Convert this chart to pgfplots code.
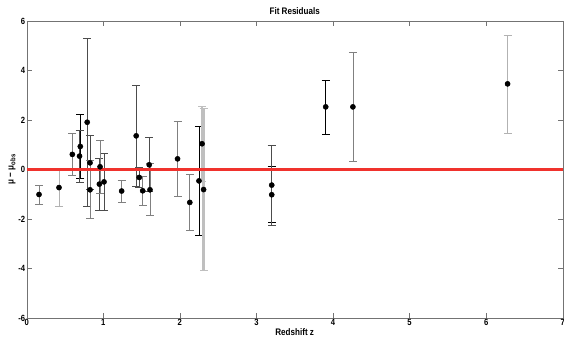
\documentclass[border=0pt]{standalone}
\usepackage{fontspec}
\setmainfont{Liberation Sans}[FakeStretch=0.85]
\usepackage{pgfplots}
\pgfplotsset{compat=1.18}
\usepackage{pgfplotstable}
\definecolor{fitred}{RGB}{240,50,45}
\pgfplotstableread{
x y e
0.70 0.93 1.28
2.25 -0.46 2.22
3.20 -1.02 1.13
3.905 2.53 1.09
}\blk
\pgfplotstableread{
x y e
0.69 0.54 1.05
0.79 1.91 3.40
0.827 0.27 1.09
0.949 -0.59 1.05
1.01 -0.50 1.16
1.43 1.36 2.04
1.47 -0.32 0.42
1.60 0.19 1.09
3.20 -0.63 1.61
}\dgr
\pgfplotstableread{
x y e
0.161 -1.01 0.38
0.596 0.61 0.85
0.827 -0.82 1.17
0.958 0.11 1.06
1.24 -0.87 0.44
1.515 -0.86 0.58
1.61 -0.82 1.05
1.97 0.43 1.51
2.13 -1.33 1.12
4.26 2.53 2.21
}\mgr
\pgfplotstableread{
x y e
0.422 -0.73 0.75
6.28 3.46 1.98
}\lgr
\pgfplotstableread{
x y e
2.29 1.04 1.50
2.31 -0.81 3.27
}\lgrthick
\pgfplotstableread{
x y
0 0
7 0
}\zeroline
\pgfplotsset{
  ebar/.style 2 args={only marks, mark=none, forget plot,
    /pgfplots/error bars/y dir=both, /pgfplots/error bars/y explicit,
    /pgfplots/error bars/error bar style={draw=#1, line width=#2},
    /pgfplots/error bars/error mark=-,
    /pgfplots/error bars/error mark options={draw=#1, line width=0.7pt, mark size=4pt, rotate=90}},
}
\begin{document}
\begin{tikzpicture}
\begin{axis}[
  scale only axis,
  width=536pt, height=297pt,
  xmin=0, xmax=7, ymin=-6, ymax=6,
  xtick={0,...,7}, ytick={-6,-4,...,6},
  tick align=inside,
  major tick length=5pt,
  axis line style={black!55},
  every tick/.style={black!55},
  tick label style={font=\bfseries\fontsize{9}{10}\selectfont},
  /pgf/number format/assume math mode=true,
  title={\bfseries Fit Residuals},
  title style={font=\fontsize{9.5}{11}\selectfont, yshift=-3pt},
  xlabel={\bfseries Redshift z},
  xlabel style={font=\fontsize{9.5}{11}\selectfont, yshift=4pt},
  ylabel={\bfseries μ − μ\raisebox{-0.35ex}{\fontsize{7}{8}\selectfont obs}},
  ylabel style={font=\fontsize{9.5}{11}\selectfont, yshift=-4pt},
  xticklabel style={yshift=2pt},
  yticklabel style={xshift=2pt},
  clip=false,
]
\addplot[ebar={black}{0.7pt}] table[x=x, y=y, y error=e]{\blk};
\addplot[ebar={black!70}{0.7pt}] table[x=x, y=y, y error=e]{\dgr};
\addplot[ebar={black!50}{0.7pt}] table[x=x, y=y, y error=e]{\mgr};
\addplot[ebar={black!30}{0.8pt}] table[x=x, y=y, y error=e]{\lgr};
\addplot[ebar={black!25}{2.2pt}] table[x=x, y=y, y error=e]{\lgrthick};
\addplot[sharp plot, draw=fitred, line width=2.2pt, mark=none, forget plot] table[x=x, y=y]{\zeroline};
\addplot[only marks, mark=*, mark size=2.6pt, black, forget plot] table[x=x, y=y]{\blk};
\addplot[only marks, mark=*, mark size=2.6pt, black, forget plot] table[x=x, y=y]{\dgr};
\addplot[only marks, mark=*, mark size=2.6pt, black, forget plot] table[x=x, y=y]{\mgr};
\addplot[only marks, mark=*, mark size=2.6pt, black, forget plot] table[x=x, y=y]{\lgr};
\addplot[only marks, mark=*, mark size=2.6pt, black, forget plot] table[x=x, y=y]{\lgrthick};
\end{axis}
\pgfresetboundingbox
\path[use as bounding box] ([xshift=-26.7pt,yshift=-26.7pt]current axis.south west) rectangle ([xshift=1.3pt,yshift=21pt]current axis.north east);
\end{tikzpicture}
\end{document}
